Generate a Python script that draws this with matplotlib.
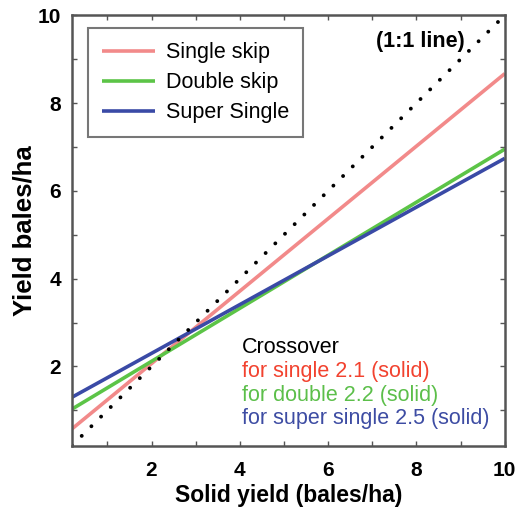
import matplotlib.pyplot as plt
import numpy as np
from matplotlib.ticker import MultipleLocator

plt.rcParams['font.family'] = ['Liberation Sans', 'DejaVu Sans']

# axis range (solid yield, bales/ha)
x_range = [0.2, 10]

# fitted lines: yield at x = 0.2 and x = 10
series_names = ['Single skip', 'Double skip', 'Super Single']
series_start = [0.58, 1.03, 1.30]
series_end = [8.67, 6.95, 6.74]
series_colors = ['#f28a8a', '#5cc447', '#3a4aa6']

crossover_lines = ['for single 2.1 (solid)', 'for double 2.2 (solid)',
                   'for super single 2.5 (solid)']
crossover_colors = ['#f2422f', '#5cbf4a', '#3d4ca3']

fig = plt.figure(figsize=(5.22, 5.08), dpi=100)
ax = fig.add_axes([0.138, 0.123, 0.829, 0.847])

for name, y0, y1, c in zip(series_names, series_start, series_end, series_colors):
    ax.plot(x_range, [y0, y1], color=c, lw=2.6, label=name, solid_capstyle='butt')

ax.plot(x_range, x_range, color='black', lw=2.8, linestyle=(0, (0.01, 3.5)),
        dash_capstyle='round')

ax.set_xlim(0.2, 10)
ax.set_ylim(0.2, 10)
ax.xaxis.set_major_locator(MultipleLocator(2))
ax.yaxis.set_major_locator(MultipleLocator(2))
ax.xaxis.set_minor_locator(MultipleLocator(1))
ax.yaxis.set_minor_locator(MultipleLocator(1))
ax.tick_params(which='both', direction='in', top=True, right=True,
               length=3.5, width=1, color='#555555')
ax.tick_params(which='major', labelsize=15, pad=8)
ax.tick_params(axis='x', which='major', pad=11)
for lab in ax.get_xticklabels() + ax.get_yticklabels():
    lab.set_fontweight('bold')
for s in ax.spines.values():
    s.set_linewidth(1.8)
    s.set_color('#555555')

ax.set_xlabel('Solid yield (bales/ha)', fontsize=16.5, fontweight='bold', labelpad=3)
ax.set_ylabel('Yield bales/ha', fontsize=18.5, fontweight='bold', labelpad=1)

leg = ax.legend(loc='upper left', bbox_to_anchor=(0.036, 0.97), fontsize=15.5,
                frameon=True, fancybox=False, handlelength=2.5,
                borderpad=0.65, labelspacing=0.42, handletextpad=0.5,
                borderaxespad=0)
leg.get_frame().set_edgecolor('#555555')
leg.get_frame().set_linewidth(1.5)

ax.text(9.1, 9.4, '(1:1 line)', fontsize=15.5, fontweight='bold',
        ha='right', va='center')

ax.text(4.05, 2.43, 'Crossover', fontsize=15.5, color='black', va='center')
for i, (t, c) in enumerate(zip(crossover_lines, crossover_colors)):
    ax.text(4.05, 2.43 - 0.54 * (i + 1), t, fontsize=15.5, color=c, va='center')

fig.savefig('out.png', dpi=100)
